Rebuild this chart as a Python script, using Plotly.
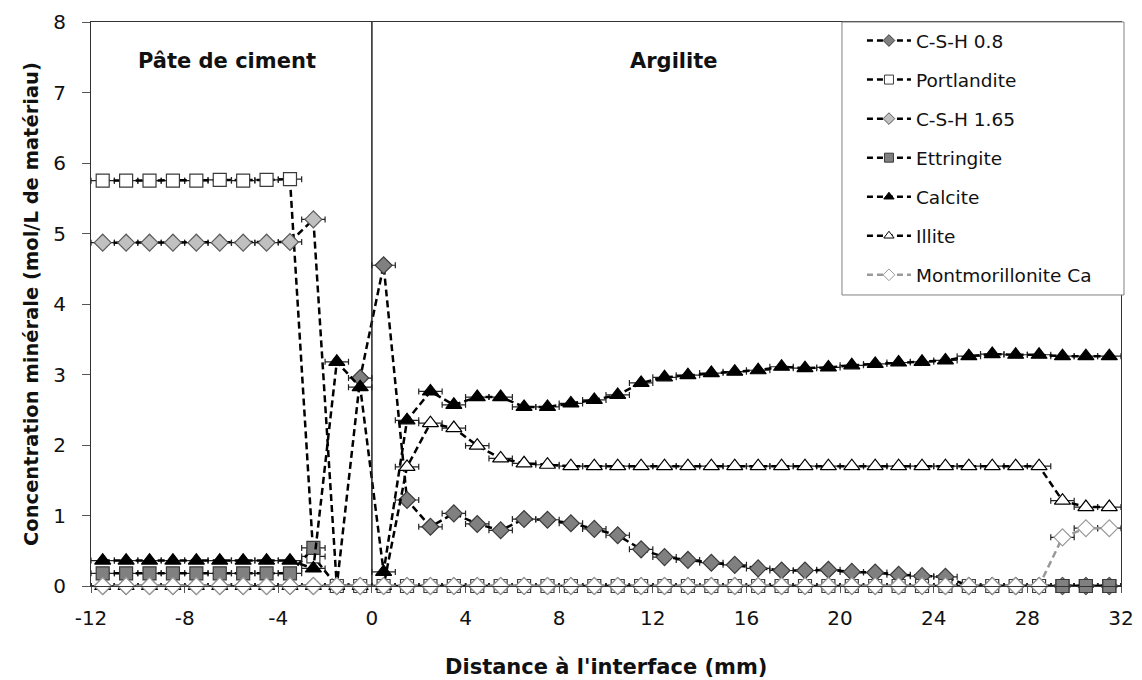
import plotly.graph_objects as go

x_mm = [-11.5, -10.5, -9.5, -8.5, -7.5, -6.5, -5.5, -4.5, -3.5, -2.5, -1.5, -0.5,
        0.5, 1.5, 2.5, 3.5, 4.5, 5.5, 6.5, 7.5, 8.5, 9.5, 10.5, 11.5, 12.5, 13.5, 14.5, 15.5,
        16.5, 17.5, 18.5, 19.5, 20.5, 21.5, 22.5, 23.5, 24.5, 25.5, 26.5, 27.5, 28.5, 29.5, 30.5, 31.5]

csh08 = [0, 0, 0, 0, 0, 0, 0, 0, 0, 0, 0, 2.95,
         4.55, 1.22, 0.84, 1.03, 0.88, 0.79, 0.95, 0.94, 0.89, 0.81, 0.72, 0.52, 0.41, 0.37, 0.33, 0.30,
         0.25, 0.22, 0.22, 0.23, 0.20, 0.19, 0.16, 0.14, 0.13, 0, 0, 0, 0, 0, 0, 0]

portlandite = [5.75, 5.75, 5.75, 5.75, 5.75, 5.76, 5.75, 5.76, 5.77, 0.42, 0, 0,
               0, 0, 0, 0, 0, 0, 0, 0, 0, 0, 0, 0, 0, 0, 0, 0,
               0, 0, 0, 0, 0, 0, 0, 0, 0, 0, 0, 0, 0, 0, 0, 0]

csh165 = [4.87, 4.87, 4.87, 4.87, 4.87, 4.87, 4.87, 4.87, 4.88, 5.2, 0, 0,
          0, 0, 0, 0, 0, 0, 0, 0, 0, 0, 0, 0, 0, 0, 0, 0,
          0, 0, 0, 0, 0, 0, 0, 0, 0, 0, 0, 0, 0, 0, 0, 0]

ettringite = [0.18, 0.18, 0.18, 0.18, 0.18, 0.18, 0.18, 0.18, 0.18, 0.54, None, None,
              None, None, None, None, None, None, None, None, None, None, None, None, None, None, None, None,
              None, None, None, None, None, None, None, None, None, None, None, None, None, 0, 0, 0]

calcite = [0.36, 0.36, 0.36, 0.36, 0.36, 0.36, 0.36, 0.36, 0.36, 0.25, 3.18, 2.82,
           0.20, 2.35, 2.76, 2.57, 2.68, 2.68, 2.54, 2.54, 2.59, 2.64, 2.71, 2.88, 2.96, 2.99, 3.02, 3.04,
           3.06, 3.11, 3.09, 3.10, 3.13, 3.15, 3.17, 3.18, 3.20, 3.26, 3.29, 3.28, 3.28, 3.26, 3.26, 3.26]

illite = [0, 0, 0, 0, 0, 0, 0, 0, 0, 0, 0, 0,
          0, 1.69, 2.31, 2.24, 1.99, 1.81, 1.74, 1.72, 1.70, 1.70, 1.70, 1.70, 1.70, 1.70, 1.70, 1.70,
          1.70, 1.70, 1.70, 1.70, 1.70, 1.70, 1.70, 1.70, 1.70, 1.70, 1.70, 1.70, 1.70, 1.21, 1.12, 1.12]

montmorillonite = [0, 0, 0, 0, 0, 0, 0, 0, 0, 0, 0, 0,
                   0, 0, 0, 0, 0, 0, 0, 0, 0, 0, 0, 0, 0, 0, 0, 0,
                   0, 0, 0, 0, 0, 0, 0, 0, 0, 0, 0, 0, 0, 0.69, 0.82, 0.82]

series_names = ["C-S-H 0.8", "Portlandite", "C-S-H 1.65", "Ettringite", "Calcite", "Illite", "Montmorillonite Ca"]
series_values = [csh08, portlandite, csh165, ettringite, calcite, illite, montmorillonite]

x_ticks = [-12, -8, -4, 0, 4, 8, 12, 16, 20, 24, 28, 32]
y_ticks = [0, 1, 2, 3, 4, 5, 6, 7, 8]

styles = [
    dict(symbol="diamond", size=13, fill="#808080", edge="#3a3a3a", line="black"),
    dict(symbol="square", size=13, fill="white", edge="#3a3a3a", line="black"),
    dict(symbol="diamond", size=13, fill="#c0c0c0", edge="#5a5a5a", line="black"),
    dict(symbol="square", size=13, fill="#808080", edge="#3a3a3a", line="black"),
    dict(symbol="triangle-up", size=14, fill="black", edge="black", line="black"),
    dict(symbol="triangle-up", size=14, fill="white", edge="black", line="black"),
    dict(symbol="diamond", size=13, fill="white", edge="#999999", line="#999999"),
]

FONT = "DejaVu Sans"
fig = go.Figure()
for i, (name, vals, st) in enumerate(zip(series_names, series_values, styles)):
    fig.add_trace(go.Scatter(
        x=x_mm, y=vals, name=name, mode="lines+markers",
        showlegend=False,
        line=dict(color=st["line"], width=2.5, dash="7px,4px"),
        marker=dict(symbol=st["symbol"], size=st["size"], color=st["fill"],
                    line=dict(color=st["edge"], width=1.2)),
        error_x=dict(type="constant", value=0.5, color="#222222", thickness=1.2, width=3),
        cliponaxis=False,
        connectgaps=False,
    ))

# legend entries (smaller symbols, as in the original legend)
for i, (name, st) in enumerate(zip(series_names, styles)):
    fig.add_trace(go.Scatter(
        x=[None], y=[None], name=name, mode="lines+markers",
        legendgroup=f"g{i}", showlegend=True,
        line=dict(color=st["line"], width=2.5, dash="6px,4px"),
        marker=dict(symbol=st["symbol"], size=9, color=st["fill"],
                    line=dict(color=st["edge"], width=1)),
    ))

fig.add_shape(type="line", xref="x", yref="y", x0=0, x1=0, y0=0, y1=8,
              line=dict(color="#222222", width=1.5))

# legend frame
fig.add_shape(type="rect", xref="paper", yref="paper", x0=0.7291, x1=1.0029, y0=0.516, y1=1.0,
              fillcolor="white", line=dict(color="#808080", width=1), layer="above")

fig.add_annotation(x=-6.18, y=7.45, xref="x", yref="y", text="<b>Pâte de ciment</b>",
                   showarrow=False, font=dict(family=FONT, size=21, color="#111111"))
fig.add_annotation(x=12.9, y=7.45, xref="x", yref="y", text="<b>Argilite</b>",
                   showarrow=False, font=dict(family=FONT, size=21, color="#111111"))

# axis titles
fig.add_annotation(x=0.5, y=0, xref="paper", yref="paper", yshift=-81, yanchor="middle",
                   text="<b>Distance à l'interface (mm)</b>", showarrow=False,
                   font=dict(family=FONT, size=21, color="#111111"))
fig.add_annotation(x=0, y=0.5, xref="paper", yref="paper", xshift=-60, xanchor="center",
                   textangle=-90, text="<b>Concentration minérale (mol/L de matériau)</b>",
                   showarrow=False, font=dict(family=FONT, size=19.5, color="#111111"))

fig.update_layout(
    width=1142, height=680,
    margin=dict(l=83, r=29, t=14, b=102),
    paper_bgcolor="white", plot_bgcolor="white",
    font=dict(family=FONT, size=18, color="#111111"),
    showlegend=True,
    legend=dict(
        x=0.7485, y=1.0, xanchor="left", yanchor="top",
        bgcolor="rgba(0,0,0,0)", borderwidth=0,
        font=dict(family=FONT, size=18.5, color="#111111"),
        tracegroupgap=12,
        itemwidth=44,
    ),
    xaxis=dict(
        range=[-12, 32], tickvals=x_ticks, ticktext=[str(t) for t in x_ticks],
        showgrid=False, zeroline=False, showline=True, linecolor="#333333", linewidth=1.2,
        mirror=True, ticks="outside", ticklen=6, tickcolor="#555555",
        tickfont=dict(family=FONT, size=20), automargin=False, ticklabelstandoff=8,
    ),
    yaxis=dict(
        range=[0, 8], tickvals=y_ticks, ticktext=[str(t) for t in y_ticks],
        showgrid=False, zeroline=False, showline=True, linecolor="#333333", linewidth=1.2,
        mirror=True, ticks="outside", ticklen=8, tickcolor="#555555",
        tickfont=dict(family=FONT, size=20), automargin=False, ticklabelstandoff=12,
    ),
)

fig.write_html("out.html")
